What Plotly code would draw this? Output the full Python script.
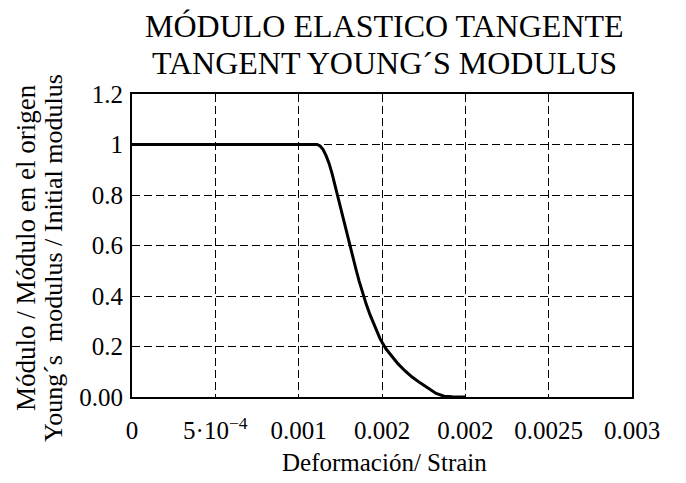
import plotly.graph_objects as go

# Data (strain, modulus / initial modulus)
strain = [0, 0.0011104, 0.0011285, 0.0011465, 0.0011645, 0.0011825, 0.0012005, 0.0012185,
          0.0012365, 0.0012545, 0.0012725, 0.0012905, 0.0013085, 0.0013265, 0.0013445,
          0.0013625, 0.0013806, 0.0014046, 0.0014286, 0.0014586, 0.0014886, 0.0015246,
          0.0015606, 0.0015966, 0.0016387, 0.0016807, 0.0017287, 0.0017767, 0.0018247,
          0.0018727, 0.0019208, 0.002]
modulus_ratio = [1, 1, 0.994, 0.980, 0.956, 0.925, 0.885, 0.837,
                 0.786, 0.738, 0.690, 0.639, 0.591, 0.548, 0.504,
                 0.460, 0.417, 0.369, 0.325, 0.274, 0.230, 0.190,
                 0.159, 0.131, 0.103, 0.079, 0.056, 0.036, 0.014,
                 0.003, 0.0005, 0]

x_tickvals = [0, 0.0005, 0.001, 0.0015, 0.002, 0.0025, 0.003]
x_ticktext = ["0", "5·10<sup>−4</sup>", "0.001", "0.002", "0.002", "0.0025", "0.003"]
y_tickvals = [0, 0.2, 0.4, 0.6, 0.8, 1.0, 1.2]
y_ticktext = ["0.00", "0.2", "0.4", "0.6", "0.8", "1", "1.2"]

title_lines = ["MÓDULO ELASTICO TANGENTE", "TANGENT YOUNG´S MODULUS"]
y_title_lines = ["Módulo / Módulo en el origen", "Young´s  modulus / Initial modulus"]
x_title = "Deformación/ Strain"

FONT = "Liberation Serif, Times New Roman, serif"

fig = go.Figure()
fig.add_trace(go.Scatter(x=strain, y=modulus_ratio, mode="lines",
                         line=dict(color="black", width=3),
                         showlegend=False, hoverinfo="skip"))

# page body has an 8px margin, so the figure is 8px smaller and margins shifted
fig.update_layout(
    width=678, height=475,
    margin=dict(l=124, r=54, t=86, b=86),
    paper_bgcolor="white", plot_bgcolor="white",
    font=dict(family=FONT, color="black", size=24),
)

fig.update_xaxes(
    range=[0, 0.003], tickvals=x_tickvals, ticktext=x_ticktext,
    showline=True, linecolor="black", linewidth=2, mirror=True,
    showgrid=True, gridcolor="black", gridwidth=1, griddash="8px,4px",
    zeroline=False, ticks="", tickfont=dict(size=25, family=FONT),
    ticklabelstandoff=10,
)
fig.update_yaxes(
    range=[0, 1.2], tickvals=y_tickvals, ticktext=y_ticktext,
    showline=True, linecolor="black", linewidth=2, mirror=True,
    showgrid=True, gridcolor="black", gridwidth=1, griddash="8px,4px",
    zeroline=False, ticks="", tickfont=dict(size=25, family=FONT),
    ticklabelstandoff=2,
)

def px_x(px):  # page pixel -> paper x
    return (px - 132) / 500

def px_y(py):  # page pixel -> paper y
    return (397 - py) / 303

annotations = [
    dict(text=title_lines[0], xref="paper", yref="paper",
         x=px_x(384), y=px_y(26), xanchor="center", yanchor="middle",
         showarrow=False, font=dict(size=32, family=FONT)),
    dict(text=title_lines[1], xref="paper", yref="paper",
         x=px_x(384), y=px_y(63), xanchor="center", yanchor="middle",
         showarrow=False, font=dict(size=32, family=FONT)),
    dict(text=y_title_lines[0], xref="paper", yref="paper",
         x=px_x(26), y=px_y(248), xanchor="center", yanchor="middle",
         textangle=-90, showarrow=False, font=dict(size=27, family=FONT)),
    dict(text=y_title_lines[1], xref="paper", yref="paper",
         x=px_x(53), y=px_y(258), xanchor="center", yanchor="middle",
         textangle=-90, showarrow=False, font=dict(size=26, family=FONT)),
    dict(text=x_title, xref="paper", yref="paper",
         x=px_x(384), y=px_y(462), xanchor="center", yanchor="middle",
         showarrow=False, font=dict(size=25, family=FONT)),
]
fig.update_layout(annotations=annotations)

fig.write_html("out.html")
